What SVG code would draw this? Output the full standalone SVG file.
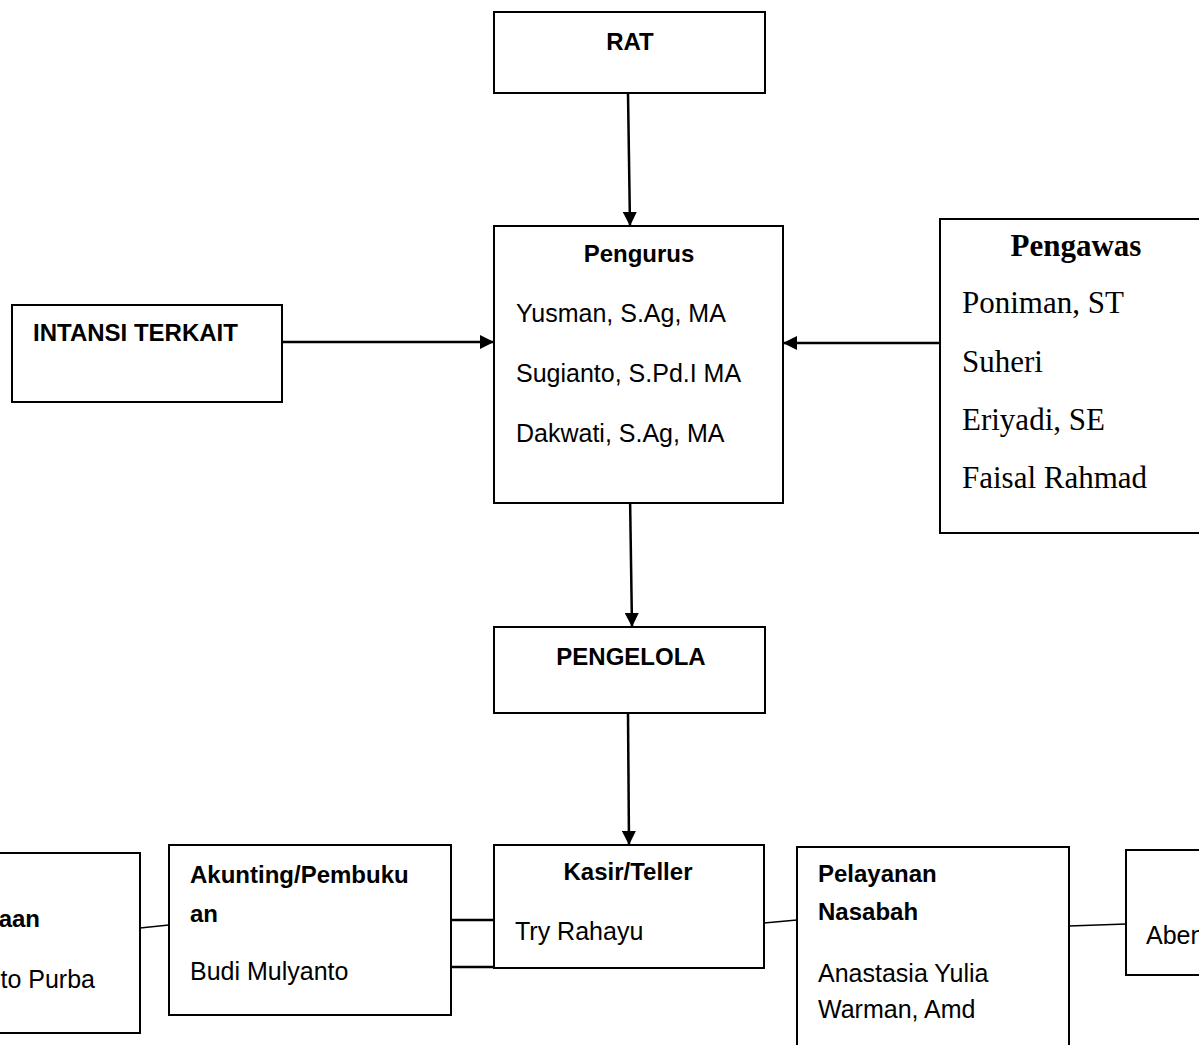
<svg xmlns="http://www.w3.org/2000/svg" width="1199" height="1045" viewBox="0 0 1199 1045">
<style>
.box{fill:#fff;stroke:#000;stroke-width:2}
.b{font-family:"Liberation Sans",Arial,sans-serif;font-weight:bold;font-size:24px;fill:#000}
.r{font-family:"Liberation Sans",Arial,sans-serif;font-size:25px;fill:#000}
.t{font-family:"Liberation Serif","Times New Roman",serif;font-size:31px;fill:#000}
.tb{font-family:"Liberation Serif","Times New Roman",serif;font-size:31px;font-weight:bold;fill:#000}
.c{fill:none;stroke:#000;stroke-width:2.5}
.c1{fill:none;stroke:#000;stroke-width:1.5}
</style>
<defs>
<marker id="ah" viewBox="0 0 14 14" refX="14" refY="7" markerWidth="14" markerHeight="14" markerUnits="userSpaceOnUse" orient="auto">
<path d="M0,0 L14,7 L0,14 z" fill="#000"/>
</marker>
</defs>
<rect width="1199" height="1045" fill="#fff"/>
<g id="connectors">
<line class="c" x1="628" y1="93" x2="630" y2="226" marker-end="url(#ah)"/>
<line class="c" x1="282" y1="342" x2="494" y2="342" marker-end="url(#ah)"/>
<line class="c" x1="940" y1="343" x2="783" y2="343" marker-end="url(#ah)"/>
<line class="c" x1="630" y1="495" x2="632" y2="627" marker-end="url(#ah)"/>
<line class="c" x1="628" y1="713" x2="629" y2="845" marker-end="url(#ah)"/>
<line class="c1" x1="140" y1="928" x2="169" y2="925"/>
<line class="c" x1="451" y1="920" x2="494" y2="920"/>
<line class="c" x1="451" y1="967" x2="494" y2="967"/>
<line class="c1" x1="764" y1="923" x2="797" y2="920"/>
<line class="c1" x1="1069" y1="926" x2="1126" y2="924"/>
</g>
<g id="rat">
<rect class="box" x="494" y="12" width="271" height="81"/>
<text class="b" x="630" y="50" text-anchor="middle">RAT</text>
</g>
<g id="pengurus">
<rect class="box" x="494" y="226" width="289" height="277"/>
<text class="b" x="639" y="262" text-anchor="middle">Pengurus</text>
<text class="r" x="516" y="322">Yusman, S.Ag, MA</text>
<text class="r" x="516" y="382">Sugianto, S.Pd.I MA</text>
<text class="r" x="516" y="442">Dakwati, S.Ag, MA</text>
</g>
<g id="intansi">
<rect class="box" x="12" y="305" width="270" height="97"/>
<text class="b" x="33" y="341">INTANSI TERKAIT</text>
</g>
<g id="pengawas">
<rect class="box" x="940" y="219" width="300" height="314"/>
<text class="tb" x="1076" y="256" text-anchor="middle">Pengawas</text>
<text class="t" x="962" y="313">Poniman, ST</text>
<text class="t" x="962" y="372">Suheri</text>
<text class="t" x="962" y="430">Eriyadi, SE</text>
<text class="t" x="962" y="488">Faisal Rahmad</text>
</g>
<g id="pengelola">
<rect class="box" x="494" y="627" width="271" height="86"/>
<text class="b" x="631" y="665" text-anchor="middle">PENGELOLA</text>
</g>
<g id="kasir">
<rect class="box" x="494" y="845" width="270" height="123"/>
<text class="b" x="628" y="880" text-anchor="middle">Kasir/Teller</text>
<text class="r" x="515" y="940">Try Rahayu</text>
</g>
<g id="akunting">
<rect class="box" x="169" y="845" width="282" height="170"/>
<text class="b" x="190" y="883">Akunting/Pembuku</text>
<text class="b" x="190" y="922">an</text>
<text class="r" x="190" y="980">Budi Mulyanto</text>
</g>
<g id="left-unit">
<rect class="box" x="-10" y="853" width="150" height="180"/>
<text class="b" x="40" y="927" text-anchor="end">aan</text>
<text class="r" x="95" y="988" text-anchor="end">to Purba</text>
</g>
<g id="pelayanan">
<rect class="box" x="797" y="847" width="272" height="220"/>
<text class="b" x="818" y="882">Pelayanan</text>
<text class="b" x="818" y="920">Nasabah</text>
<text class="r" x="818" y="982">Anastasia Yulia</text>
<text class="r" x="818" y="1018">Warman, Amd</text>
</g>
<g id="right-unit">
<rect class="box" x="1126" y="850" width="100" height="125"/>
<text class="r" x="1146" y="944">Aben</text>
</g>
</svg>
